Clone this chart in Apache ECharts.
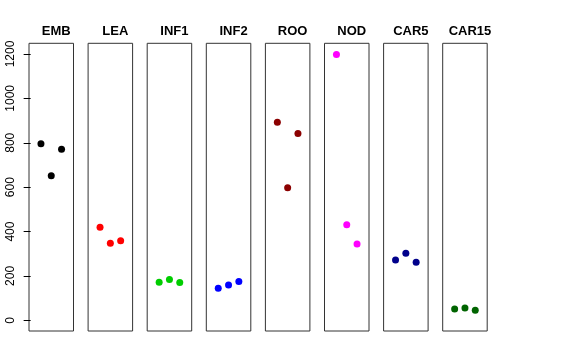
<!DOCTYPE html>
<html><head><meta charset="utf-8">
<script src="https://cdn.jsdelivr.net/npm/echarts@6/dist/echarts.min.js"></script>
<style>html,body{margin:0;padding:0;background:#fff}#c{width:576px;height:360px}</style>
</head><body><div id="c"></div>
<script>
const panels = ['EMB','LEA','INF1','INF2','ROO','NOD','CAR5','CAR15'];
const colors = ['#000000','#FF0000','#00CD00','#0000FF','#8B0000','#FF00FF','#00008B','#006400'];
const xPos = [1, 2, 3];
const values = {
  EMB:   [796, 651, 771],
  LEA:   [419, 347, 358],
  INF1:  [172, 184, 171],
  INF2:  [145, 159, 175],
  ROO:   [892, 597, 842],
  NOD:   [1198, 431, 344],
  CAR5:  [272, 302, 262],
  CAR15: [51, 56, 45]
};
const yTicks = [0, 200, 400, 600, 800, 1000, 1200];

(function () {
const chart = echarts.init(document.getElementById('c'), null, {renderer:'canvas'});
const left0 = 29, step = 59.1, w = 44.5, gTop = 43.3, gH = 287.7;
const grids = [], xAxes = [], yAxes = [], series = [], titles = [];
panels.forEach((p, i) => {
  const l = left0 + i * step;
  grids.push({left: l, top: gTop, width: w, height: gH, show: true, borderColor: '#333', borderWidth: 1, backgroundColor: 'transparent'});
  xAxes.push({gridIndex: i, type: 'value', min: -0.16, max: 4.16, show: false});
  yAxes.push({
    gridIndex: i, type: 'value', min: -48, max: 1248,
    show: i === 0,
    splitLine: {show: false},
    axisLine: {show: false},
    axisTick: {show: true, length: 7, lineStyle: {color: '#000'}, customValues: yTicks},
    axisLabel: {show: true, rotate: 90, margin: 12, fontSize: 12, color: '#000', fontFamily: 'Liberation Sans',
      customValues: yTicks, formatter: v => String(v)}
  });
  series.push({
    type: 'scatter', xAxisIndex: i, yAxisIndex: i,
    data: xPos.map((x, k) => [x, values[p][k]]),
    symbol: 'circle', symbolSize: 7,
    itemStyle: {color: colors[i], opacity: 1}, silent: true
  });
  titles.push({text: p, left: l + w / 2, top: 20, textAlign: 'center',
    textStyle: {fontSize: 13, fontWeight: 'bold', color: '#000', fontFamily: 'Liberation Sans'}});
});
chart.setOption({animation: false, title: titles, grid: grids, xAxis: xAxes, yAxis: yAxes, series: series});
})();
</script></body></html>
